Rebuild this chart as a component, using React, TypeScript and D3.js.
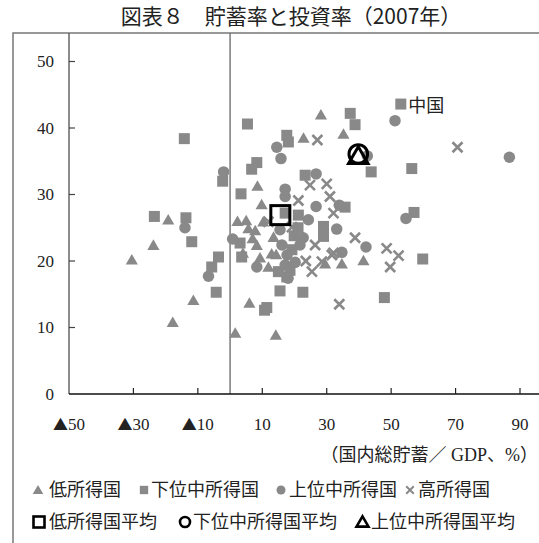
import { useRef, useEffect } from 'react';
import * as d3 from 'd3';

const WIDTH = 539;
const HEIGHT = 543;

// [国内総貯蓄/GDP, 国内総投資/GDP] (%)
const lowIncome: [number, number][] = [
  [-30.5, 20.0], [-23.8, 22.2], [-19.2, 26.0], [-17.8, 10.6], [-11.4, 13.9],
  [1.6, 9.0], [14.2, 8.7], [6.0, 13.5], [2.3, 25.8], [5.0, 25.9],
  [5.7, 24.7], [7.8, 24.4], [7.0, 23.2], [8.3, 22.2], [9.3, 20.3],
  [9.8, 28.3], [8.5, 31.1], [13.5, 23.4], [12.9, 20.9], [11.9, 18.9],
  [28.2, 41.8], [22.8, 38.3], [35.2, 38.9], [41.4, 19.9], [34.7, 19.4],
  [29.5, 19.4], [10.3, 25.7], [4.0, 21.0], [14.3, 20.8],
];

const lowerMiddle: [number, number][] = [
  [-14.2, 38.4], [5.4, 40.6], [17.6, 38.9], [18.1, 37.9], [-2.3, 32.0],
  [8.3, 34.8], [6.7, 33.8], [3.4, 30.1], [-23.5, 26.7], [-13.7, 26.5],
  [-11.9, 22.9], [-3.6, 20.6], [-5.7, 19.1], [-4.3, 15.3], [11.4, 13.0],
  [10.7, 12.6], [15.5, 15.5], [3.1, 22.7], [3.6, 20.6], [15.0, 18.4],
  [17.6, 17.6], [22.6, 15.3], [37.3, 42.2], [38.8, 40.5], [53.0, 43.6],
  [43.8, 33.4], [56.4, 33.9], [23.3, 32.9], [35.7, 28.1], [57.1, 27.3],
  [21.2, 26.9], [29.0, 25.2], [59.8, 20.3], [47.9, 14.5], [29.0, 23.7],
  [17.1, 27.2], [19.2, 21.7], [18.6, 18.6], [19.9, 23.8], [21.1, 25.0],
];

const upperMiddle: [number, number][] = [
  [14.5, 37.1], [15.8, 35.4], [-2.0, 33.4], [17.1, 30.8], [17.1, 29.7],
  [-14.0, 25.0], [-6.7, 17.7], [0.8, 23.3], [8.3, 19.1], [51.2, 41.1],
  [86.7, 35.6], [42.6, 35.8], [26.7, 33.1], [26.7, 28.2], [33.9, 28.4],
  [54.6, 26.4], [24.3, 26.2], [33.1, 24.8], [42.2, 22.1], [34.7, 21.3],
  [16.1, 22.4], [17.7, 20.9], [17.1, 19.4], [20.2, 19.8], [15.5, 24.7],
  [21.7, 22.4], [18.0, 17.4], [22.7, 23.5],
];

const highIncome: [number, number][] = [
  [27.1, 38.2], [70.6, 37.1], [24.8, 31.4], [30.0, 31.6], [31.0, 29.7],
  [21.2, 29.1], [32.1, 27.2], [38.8, 23.5], [48.6, 21.9], [52.3, 20.8],
  [49.7, 19.1], [32.1, 21.2], [28.5, 19.9], [25.4, 18.4], [33.9, 13.5],
  [26.4, 22.4], [31.6, 20.9], [11.9, 25.9], [19.2, 25.1], [23.5, 20.0],
];

const lowAvg: [number, number] = [15.6, 26.9];
const lowerMiddleAvg: [number, number] = [39.8, 36.1];
const upperMiddleAvg: [number, number] = [39.8, 35.5];

const chinaPoint: [number, number] = [53.0, 43.6];

const xTicks = [-50, -30, -10, 10, 30, 50, 70, 90];
const yTicks = [0, 10, 20, 30, 40, 50];

const legendRow1 = ['低所得国', '下位中所得国', '上位中所得国', '高所得国'];
const legendRow2 = ['低所得国平均', '下位中所得国平均', '上位中所得国平均'];

const GRAY = '#898989';
const SERIF = '"Liberation Serif", "Noto Sans CJK JP", serif';
const JP = '"Noto Sans CJK JP", sans-serif';

function crossPath(r: number) {
  return `M${-r},${-r}L${r},${r}M${-r},${r}L${r},${-r}`;
}

function drawChart(svgEl: SVGSVGElement) {
  const svg = d3.select(svgEl);
  svg.selectAll('*').remove();

  const x = d3.scaleLinear().domain([-50, 90]).range([69, 520]);
  const y = d3.scaleLinear().domain([0, 50]).range([394, 61.5]);
  const top = 33;

  // title
  svg.append('text')
    .attr('x', 291).attr('y', 16)
    .attr('dy', '0.36em')
    .attr('text-anchor', 'middle')
    .attr('font-family', JP)
    .attr('font-size', 21)
    .attr('fill', '#222')
    .text('図表８　貯蓄率と投資率（2007年）');

  // outer frame (cut at right / bottom)
  svg.append('path')
    .attr('d', `M13,${HEIGHT}V${top}H${WIDTH}`)
    .attr('fill', 'none')
    .attr('stroke', '#777')
    .attr('stroke-width', 1.5);

  // axes
  svg.append('line')
    .attr('x1', x(-50)).attr('x2', x(-50))
    .attr('y1', y(0)).attr('y2', top)
    .attr('stroke', '#666').attr('stroke-width', 1.5);
  svg.append('line')
    .attr('x1', x(0)).attr('x2', x(0))
    .attr('y1', y(0)).attr('y2', top)
    .attr('stroke', '#666').attr('stroke-width', 1.3);
  svg.append('line')
    .attr('x1', x(-50)).attr('x2', WIDTH)
    .attr('y1', y(0)).attr('y2', y(0))
    .attr('stroke', '#111').attr('stroke-width', 1.5);

  // y ticks
  const yt = svg.append('g');
  yt.selectAll('line').data(yTicks.filter(d => d > 0)).join('line')
    .attr('x1', x(-50)).attr('x2', x(-50) + 6)
    .attr('y1', d => y(d)).attr('y2', d => y(d))
    .attr('stroke', '#444').attr('stroke-width', 1.2);
  yt.selectAll('text').data(yTicks).join('text')
    .attr('x', 54).attr('y', d => y(d))
    .attr('dy', '0.35em')
    .attr('text-anchor', 'end')
    .attr('font-family', SERIF)
    .attr('font-size', 17)
    .attr('fill', '#222')
    .text(d => String(d));

  // x ticks
  const xt = svg.append('g');
  xt.selectAll('line').data(xTicks.filter(d => d > -50)).join('line')
    .attr('x1', d => x(d)).attr('x2', d => x(d))
    .attr('y1', y(0)).attr('y2', y(0) - 6)
    .attr('stroke', '#222').attr('stroke-width', 1.2);
  const xl = xt.selectAll('text').data(xTicks).join('text')
    .attr('x', d => x(d)).attr('y', 424)
    .attr('dy', '0.35em')
    .attr('text-anchor', 'middle')
    .attr('font-family', SERIF)
    .attr('font-size', 17)
    .attr('fill', '#222');
  xl.filter(d => d < 0).append('tspan')
    .attr('font-family', JP)
    .attr('font-size', 15)
    .text('▲');
  xl.append('tspan').text(d => String(Math.abs(d)));

  svg.append('text')
    .attr('x', 538).attr('y', 455)
    .attr('dy', '0.35em')
    .attr('text-anchor', 'end')
    .attr('font-family', SERIF)
    .attr('font-size', 18)
    .attr('fill', '#222')
    .text('（国内総貯蓄／ GDP、%）');

  const plot = svg.append('g');

  const tri = d3.symbol().type(d3.symbolTriangle).size(64);
  const sq = d3.symbol().type(d3.symbolSquare).size(121);
  const circ = d3.symbol().type(d3.symbolCircle).size(104);

  plot.append('g').selectAll('path').data(lowIncome).join('path')
    .attr('transform', d => `translate(${x(d[0])},${y(d[1])})`)
    .attr('d', tri()!)
    .attr('fill', GRAY);

  plot.append('g').selectAll('path').data(lowerMiddle).join('path')
    .attr('transform', d => `translate(${x(d[0])},${y(d[1])})`)
    .attr('d', sq()!)
    .attr('fill', GRAY);

  plot.append('g').selectAll('path').data(upperMiddle).join('path')
    .attr('transform', d => `translate(${x(d[0])},${y(d[1])})`)
    .attr('d', circ()!)
    .attr('fill', GRAY);

  plot.append('g').selectAll('path').data(highIncome).join('path')
    .attr('transform', d => `translate(${x(d[0])},${y(d[1])})`)
    .attr('d', crossPath(5))
    .attr('fill', 'none')
    .attr('stroke', GRAY)
    .attr('stroke-width', 2.6);

  // China label
  svg.append('text')
    .attr('x', x(chinaPoint[0]) + 7.5)
    .attr('y', y(chinaPoint[1]) + 2)
    .attr('dy', '0.35em')
    .attr('font-family', JP)
    .attr('font-size', 18)
    .attr('fill', '#222')
    .text('中国');

  // averages
  svg.append('rect')
    .attr('x', x(lowAvg[0]) - 9.5).attr('y', y(lowAvg[1]) - 9.5)
    .attr('width', 19).attr('height', 19)
    .attr('fill', 'none').attr('stroke', '#000').attr('stroke-width', 3);
  svg.append('circle')
    .attr('cx', x(lowerMiddleAvg[0])).attr('cy', y(lowerMiddleAvg[1]))
    .attr('r', 9.3)
    .attr('fill', 'none').attr('stroke', '#000').attr('stroke-width', 3);
  svg.append('path')
    .attr('transform', `translate(${x(upperMiddleAvg[0])},${y(upperMiddleAvg[1])})`)
    .attr('d', d3.symbol().type(d3.symbolTriangle).size(165)()!)
    .attr('fill', 'none').attr('stroke', '#000').attr('stroke-width', 3)
    .attr('stroke-linejoin', 'miter');

  // legend
  const row1Y = 490;
  const row2Y = 522;
  const row1X = [49, 151, 289, 418];
  const row2X = [49, 193, 371];

  const lg = svg.append('g');
  lg.selectAll('text.r1').data(legendRow1).join('text')
    .attr('class', 'r1')
    .attr('x', (_d, i) => row1X[i]).attr('y', row1Y)
    .attr('dy', '0.36em')
    .attr('font-family', JP).attr('font-size', 18).attr('fill', '#222')
    .text(d => d);
  lg.selectAll('text.r2').data(legendRow2).join('text')
    .attr('class', 'r2')
    .attr('x', (_d, i) => row2X[i]).attr('y', row2Y)
    .attr('dy', '0.36em')
    .attr('font-family', JP).attr('font-size', 18).attr('fill', '#222')
    .text(d => d);

  lg.append('path')
    .attr('transform', `translate(${row1X[0] - 11},${row1Y + 1})`)
    .attr('d', d3.symbol().type(d3.symbolTriangle).size(48)()!)
    .attr('fill', GRAY);
  lg.append('path')
    .attr('transform', `translate(${row1X[1] - 7},${row1Y})`)
    .attr('d', d3.symbol().type(d3.symbolSquare).size(70)()!)
    .attr('fill', GRAY);
  lg.append('path')
    .attr('transform', `translate(${row1X[2] - 8},${row1Y})`)
    .attr('d', d3.symbol().type(d3.symbolCircle).size(64)()!)
    .attr('fill', GRAY);
  lg.append('path')
    .attr('transform', `translate(${row1X[3] - 8},${row1Y})`)
    .attr('d', crossPath(3.8))
    .attr('fill', 'none').attr('stroke', GRAY).attr('stroke-width', 2);

  lg.append('rect')
    .attr('x', row2X[0] - 15.5).attr('y', row2Y - 5.5)
    .attr('width', 11).attr('height', 11)
    .attr('fill', 'none').attr('stroke', '#000').attr('stroke-width', 2.6);
  lg.append('circle')
    .attr('cx', row2X[1] - 8).attr('cy', row2Y)
    .attr('r', 5)
    .attr('fill', 'none').attr('stroke', '#000').attr('stroke-width', 2.6);
  lg.append('path')
    .attr('transform', `translate(${row2X[2] - 8.5},${row2Y + 1.2})`)
    .attr('d', d3.symbol().type(d3.symbolTriangle).size(62)()!)
    .attr('fill', 'none').attr('stroke', '#000').attr('stroke-width', 2.6);
}

export default function App() {
  const svgRef = useRef<SVGSVGElement>(null);

  useEffect(() => {
    if (svgRef.current) drawChart(svgRef.current);
  }, []);

  return (
    <>
      <style>{'body{margin:0;background:#fff}'}</style>
      <svg
        ref={svgRef}
        width={WIDTH}
        height={HEIGHT}
        style={{ display: 'block', background: '#fff' }}
      />
    </>
  );
}
